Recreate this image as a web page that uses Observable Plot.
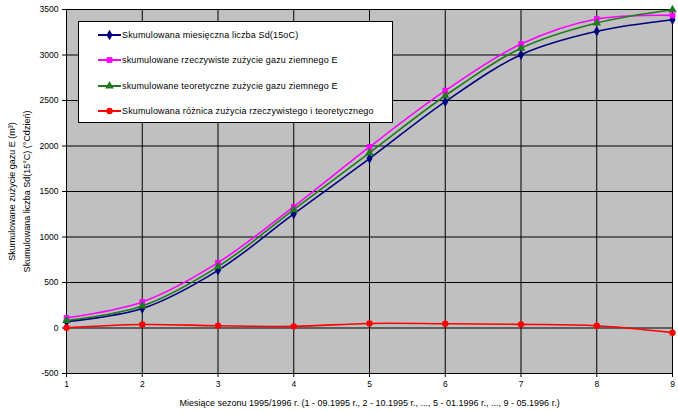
<!DOCTYPE html>
<html><head><meta charset="utf-8">
<script src="https://cdn.jsdelivr.net/npm/d3@7"></script>
<script src="https://cdn.jsdelivr.net/npm/@observablehq/plot@0.6"></script>
<style>
body{margin:0;background:#fff;font-family:"Liberation Sans",Arial,sans-serif;}
#wrap{position:relative;width:678px;height:412px;overflow:hidden;}
#legend{position:absolute;left:78px;top:21px;width:313px;height:100px;background:#fff;border:1px solid #000;font-size:9px;letter-spacing:0.15px;color:#000;}
.row{position:absolute;left:19px;height:14px;display:flex;align-items:center;white-space:nowrap;}
.row svg{display:block;margin-right:1px;}
</style></head><body><div id="wrap"></div>
<script>
const months = [1, 2, 3, 4, 5, 6, 7, 8, 9];
const seriesNames = [
  "Skumulowana miesięczna liczba Sd(15oC)",
  "skumulowane rzeczywiste zużycie gazu ziemnego E",
  "skumulowane teoretyczne zużycie gazu ziemnego E",
  "Skumulowana różnica zużycia rzeczywistego i teoretycznego"
];
const sdValues = [70, 214, 634, 1253, 1862, 2487, 3003, 3260, 3388];
const actualValues = [110, 286, 718, 1333, 1990, 2608, 3121, 3396, 3435];
const theoreticalValues = [82, 242, 675, 1300, 1925, 2552, 3075, 3352, 3497];
const differenceValues = [3, 38, 25, 18, 50, 47, 40, 25, -51];
const yTicks = [-500, 0, 500, 1000, 1500, 2000, 2500, 3000, 3500];
const seriesColors = ["#000080", "#FF00FF", "#1F7A1F", "#FF0000"];
const seriesSymbols = ["diamond", "square", "triangle", "circle"];
const xTitle = "Miesiące sezonu 1995/1996 r. (1 - 09.1995 r., 2 - 10.1995 r., ..., 5 - 01.1996 r., ..., 9 - 05.1996 r.)";
const yTitle = "Skumulowane zużycie gazu E (m³)\nSkumulowana liczba Sd(15°C) (°Cdzień)";

const valueLists = [sdValues, actualValues, theoreticalValues, differenceValues];
const data = seriesNames.flatMap((name, i) =>
  months.map((m, j) => ({month: m, value: valueLists[i][j], series: name})));

const chart = Plot.plot({
  width: 678, height: 412,
  marginLeft: 66, marginRight: 6, marginTop: 9, marginBottom: 39,
  style: {fontFamily: "'Liberation Sans', Arial, sans-serif", fontSize: "8.5px", background: "#fff", color: "#000"},
  x: {domain: [1, 9]},
  y: {domain: [-500, 3500]},
  color: {domain: seriesNames, range: seriesColors},
  symbol: {domain: seriesNames, range: seriesSymbols},
  marks: [
    Plot.frame({fill: "#C0C0C0", stroke: "#808080"}),
    Plot.gridY({ticks: yTicks, stroke: "#000", strokeOpacity: 1}),
    Plot.gridX({ticks: months, stroke: "#000", strokeOpacity: 1}),
    Plot.axisY({ticks: yTicks, tickSize: 4, tickPadding: 4, label: null, tickFormat: d => String(d)}),
    Plot.axisX({ticks: months, tickSize: 4, tickPadding: 3, label: null, tickFormat: d => String(d)}),
    Plot.ruleX([1], {stroke: "#000"}),
    Plot.line(data, {x: "month", y: "value", stroke: "series", z: "series", curve: "catmull-rom", strokeWidth: 1.6}),
    Plot.dot(data, {x: "month", y: "value", fill: "series", symbol: "series", r: 3.2}),
    Plot.text([xTitle], {frameAnchor: "bottom", dy: 32, fontSize: 9, letterSpacing: "0.4px"}),
    Plot.text([yTitle], {frameAnchor: "left", dx: -49, rotate: -90, textAnchor: "middle", lineAnchor: "middle", lineHeight: 1.75, fontSize: 9, letterSpacing: "0.1px"})
  ]
});
const wrap = document.getElementById("wrap");
wrap.appendChild(chart);

const legend = document.createElement("div");
legend.id = "legend";
seriesNames.forEach((name, i) => {
  const row = document.createElement("div");
  row.className = "row";
  row.style.top = (13 + 25.3 * i - 7) + "px";
  const sym = d3.symbol(d3[{diamond: "symbolDiamond", square: "symbolSquare", triangle: "symbolTriangle", circle: "symbolCircle"}[seriesSymbols[i]]], 3.2 * 3.2 * Math.PI)();
  row.innerHTML = `<svg width="23" height="14"><line x1="0" x2="23" y1="7" y2="7" stroke="${seriesColors[i]}" stroke-width="2"/><path d="${sym}" transform="translate(11.5,7)" fill="${seriesColors[i]}"/></svg><span>${name}</span>`;
  legend.appendChild(row);
});
wrap.appendChild(legend);
</script>
</body></html>
